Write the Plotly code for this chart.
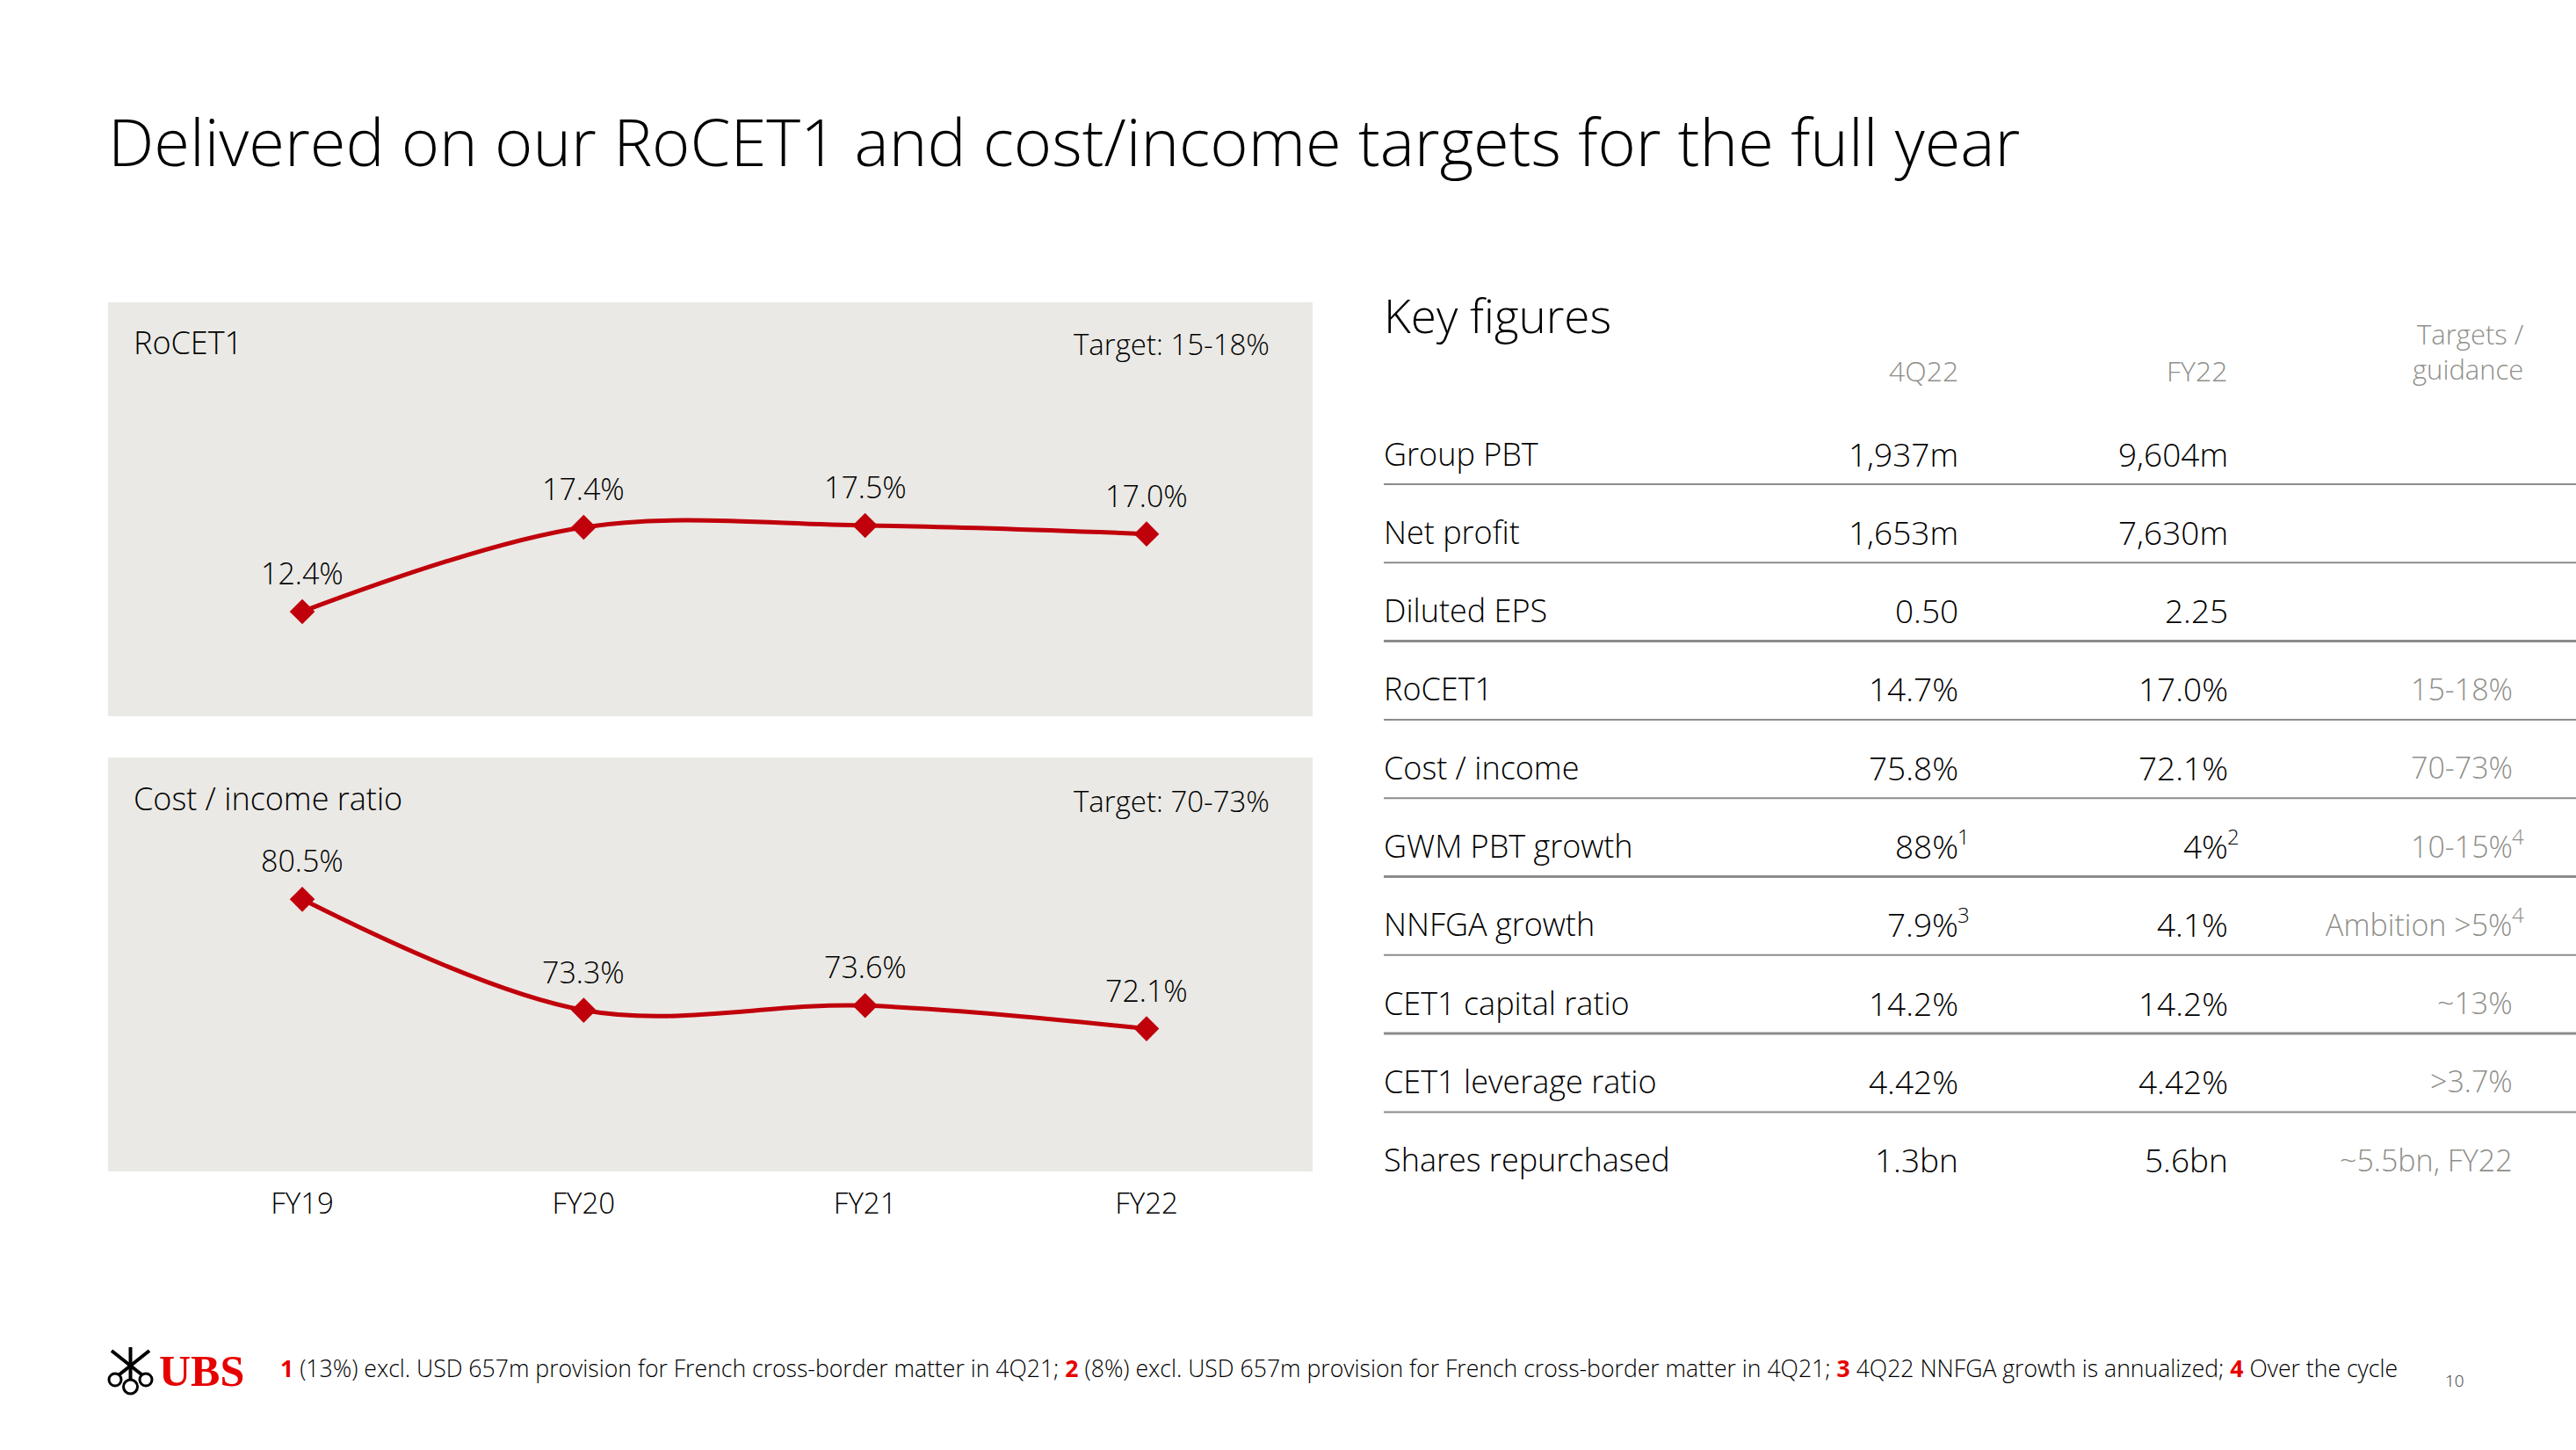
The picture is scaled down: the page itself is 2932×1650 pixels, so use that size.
import plotly.graph_objects as go

# ---------------- data ----------------
years = ["FY19", "FY20", "FY21", "FY22"]
rocet1 = [12.4, 17.4, 17.5, 17.0]
cost_income = [80.5, 73.3, 73.6, 72.1]

row_labels = ["Group PBT", "Net profit", "Diluted EPS", "RoCET1", "Cost / income",
              "GWM PBT growth", "NNFGA growth", "CET1 capital ratio",
              "CET1 leverage ratio", "Shares repurchased"]
q4_values = ["1,937m", "1,653m", "0.50", "14.7%", "75.8%", "88%", "7.9%", "14.2%", "4.42%", "1.3bn"]
q4_notes = ["", "", "", "", "", "1", "3", "", "", ""]
fy_values = ["9,604m", "7,630m", "2.25", "17.0%", "72.1%", "4%", "4.1%", "14.2%", "4.42%", "5.6bn"]
fy_notes = ["", "", "", "", "", "2", "", "", "", ""]
target_values = ["", "", "", "15-18%", "70-73%", "10-15%", "Ambition >5%", "~13%", ">3.7%", "~5.5bn, FY22"]
target_notes = ["", "", "", "", "", "4", "4", "", "", ""]
col_headers = ["4Q22", "FY22", "Targets /<br>guidance"]

footnotes = [("1", "(13%) excl. USD 657m provision for French cross-border matter in 4Q21; "),
             ("2", "(8%) excl. USD 657m provision for French cross-border matter in 4Q21; "),
             ("3", "4Q22 NNFGA growth is annualized; "),
             ("4", "Over the cycle")]

# ---------------- styling ----------------
W, H = 2932, 1650
FONT = "Open Sans"
RED = "#C0000B"
UBS_RED = "#E60000"
BG = "#EAE9E5"
GREY_TXT = "#8F8F8A"
LINE_GREY = "#8C8C8C"


def px(x):
    return x / W


def py(y):
    return 1 - y / H


annotations = []
shapes = []


def txt(x, y, s, size, color="#000000", xanchor="left", yanchor="middle", **kw):
    annotations.append(dict(x=px(x), y=py(y), xref="paper", yref="paper", text=s,
                            showarrow=False, xanchor=xanchor, yanchor=yanchor, borderpad=0,
                            font=dict(family=FONT, size=size, color=color, weight=300), **kw))


fig = go.Figure()

line_style = dict(color=RED, width=5, shape="spline", smoothing=1.0)
marker_style = dict(symbol="diamond", size=22, color=RED)

fig.add_trace(go.Scatter(x=years, y=rocet1, mode="lines+markers", line=line_style,
                         marker=marker_style, xaxis="x", yaxis="y", hoverinfo="skip"))
fig.add_trace(go.Scatter(x=years, y=cost_income, mode="lines+markers", line=line_style,
                         marker=marker_style, xaxis="x2", yaxis="y2", hoverinfo="skip"))

# data labels
for xa, ya, vals in (("x", "y", rocet1), ("x2", "y2", cost_income)):
    for cat, v in zip(years, vals):
        annotations.append(dict(x=cat, y=v, xref=xa, yref=ya, text=f"{v:.1f}%",
                                showarrow=False, yanchor="middle", yshift=44,
                                font=dict(family=FONT, size=34, color="#000000", weight=300)))

# panel titles
txt(151, 390, "RoCET1", 36)
txt(1446, 392, "Target: 15-18%", 33, xanchor="right")
txt(151, 908, "Cost / income ratio", 36)
txt(1446, 911, "Target: 70-73%", 33, xanchor="right")

# main title
txt(122, 161, "Delivered on our RoCET1 and cost/income targets for the full year", 74)

# key figures table
txt(1574, 358, "Key figures", 53)
col_right = [2230, 2537, 2861]
txt(col_right[0], 422, col_headers[0], 32, GREY_TXT, xanchor="right")
txt(col_right[1], 422, col_headers[1], 32, GREY_TXT, xanchor="right")
annotations.append(dict(x=px(2874), y=py(442), xref="paper", yref="paper",
                        text=col_headers[2], showarrow=False, xanchor="right",
                        yanchor="bottom", align="right", borderpad=0,
                        font=dict(family=FONT, size=31, color=GREY_TXT, weight=300)))

row_step = 89.3
emph = {2, 5, 7}
for i, lab in enumerate(row_labels):
    yc = 516 + i * row_step
    txt(1574, yc, lab, 36)
    for col, vals, notes, colr in ((0, q4_values, q4_notes, "#000000"),
                                   (1, fy_values, fy_notes, "#000000"),
                                   (2, target_values, target_notes, GREY_TXT)):
        if vals[i]:
            txt(col_right[col], yc, vals[i], 37 if col < 2 else 34, colr, xanchor="right")
        if notes[i]:
            txt(col_right[col] - 3, yc - 11, notes[i], 24, colr, xanchor="left")
    if i < len(row_labels) - 1:
        yl = yc + 35
        shapes.append(dict(type="line", xref="paper", yref="paper",
                           x0=px(1575), x1=1.0, y0=py(yl), y1=py(yl),
                           line=dict(color=LINE_GREY, width=3 if i in emph else 2)))

# footnote
foot = "".join(f"<span style='color:{UBS_RED}'><b>{n}</b></span> {t}" for n, t in footnotes)
txt(318, 1557, foot, 26.6)
txt(2794, 1571, "10", 19, "#333333", xanchor="center")

# UBS logo text
annotations.append(dict(x=px(180), y=py(1560), xref="paper", yref="paper", text="<b>UBS</b>",
                        showarrow=False, xanchor="left", yanchor="middle", borderpad=0,
                        font=dict(family="Liberation Serif", size=50, color=UBS_RED)))
# simplified keys emblem
for cx, cy, r in ((131, 1570, 7), (148.5, 1578, 8), (166, 1570, 7)):
    shapes.append(dict(type="circle", xref="paper", yref="paper",
                       x0=px(cx - r), x1=px(cx + r), y0=py(cy + r), y1=py(cy - r),
                       line=dict(color="#000000", width=3), fillcolor="rgba(0,0,0,0)"))
for x0, y0, x1, y1 in ((136, 1564, 170, 1537), (161, 1564, 127, 1537), (148.5, 1570, 148.5, 1533)):
    shapes.append(dict(type="line", xref="paper", yref="paper",
                       x0=px(x0), y0=py(y0), x1=px(x1), y1=py(y1),
                       line=dict(color="#000000", width=4)))

xdom = [px(123), px(1494)]
xr = [-0.69, 3.59]
fig.update_layout(
    width=W, height=H,
    margin=dict(l=0, r=0, t=0, b=0),
    paper_bgcolor="#FFFFFF", plot_bgcolor=BG,
    showlegend=False,
    font=dict(family=FONT, color="#000000"),
    xaxis=dict(domain=xdom, range=xr, anchor="y", showticklabels=False,
               showgrid=False, zeroline=False, showline=False, ticks="", fixedrange=True),
    yaxis=dict(domain=[py(815), py(344)], range=[6.2, 30.73], anchor="x",
               visible=False, fixedrange=True),
    xaxis2=dict(domain=xdom, range=xr, anchor="y2", showgrid=False, zeroline=False,
                showline=False, ticks="", ticklabelstandoff=14,
                tickfont=dict(family=FONT, size=33, color="#000000", weight=300),
                fixedrange=True),
    yaxis2=dict(domain=[py(1333), py(862)], range=[62.84, 89.7], anchor="x2",
                visible=False, fixedrange=True),
    annotations=annotations,
    shapes=shapes,
)

fig.write_html("out.html", config={"displayModeBar": False},
               post_script="document.body.style.margin='0';document.body.style.padding='0';")
